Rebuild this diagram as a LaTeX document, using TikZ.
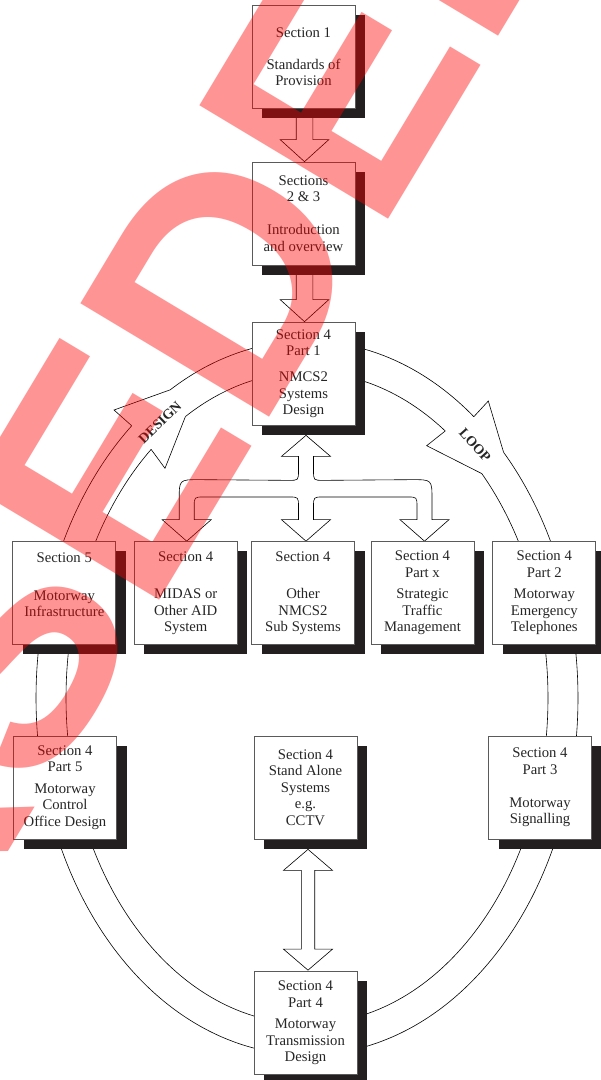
\documentclass[tikz,border=0pt]{standalone}
\usepackage{fontspec}
\setmainfont{Liberation Serif}
\newfontfamily\stampfont{Liberation Sans}
\usepackage{tikz}
\usetikzlibrary{calc,shadows}
\definecolor{shadowblk}{RGB}{35,31,32}
\definecolor{framegray}{RGB}{90,90,90}
\pgfdeclarelayer{back}
\pgfdeclarelayer{front}
\pgfsetlayers{back,main,front}

\begin{document}
\begin{tikzpicture}[x=1pt,y=1pt,
  sect/.style={draw=framegray,fill=white,line width=0.7pt,minimum width=103pt,minimum height=103pt,inner sep=0pt,align=center,text=black!85,font=\fontsize{14.7}{16.5}\selectfont,drop shadow={shadow xshift=10pt,shadow yshift=-9.5pt,opacity=1,fill=shadowblk}},
  blk/.style={draw=black,fill=white,line width=0.6pt,line join=miter},
  ring/.style={draw=black,line width=0.6pt},
  tag/.style={font=\fontsize{14}{14}\selectfont\bfseries,inner sep=0pt,text=black!85}]
\useasboundingbox (0,0) rectangle (601,-1080);
% top column
\node[sect] (s1) at (303.5,-56.5) {Section 1\\[15.5pt]Standards of\\Provision};
\node[sect] (s23) at (303.5,-213.5) {Sections\\2 \& 3\\[16.5pt]Introduction\\and overview};
\node[sect] (s41) at (303.5,-373.5) {Section 4\\Part 1\\[9.5pt]NMCS2\\Systems\\Design};
% middle row
\foreach \n/\x/\t in %
{s5/64.3/{Section 5\\[21pt]Motorway\\Infrastructure\\~},
 midas/185.7/{Section 4\\[21pt]MIDAS or\\Other AID\\System},
 other/303/{Section 4\\[21pt]Other\\NMCS2\\Sub Systems},
 stm/422.5/{Section 4\\Part x\\[5pt]Strategic\\Traffic\\Management},
 met/544.3/{Section 4\\Part 2\\[5pt]Motorway\\Emergency\\Telephones}} {
   \node[sect] (\n) at (\x,-593) {\t};
}
% lower row
\foreach \n/\x/\t in %
{p5/65/{Section 4\\Part 5\\[5pt]Motorway\\Control\\Office Design},
 cctv/305.5/{Section 4\\Stand Alone\\Systems\\e.g.\\CCTV},
 p3/540/{Section 4\\Part 3\\[16.5pt]Motorway\\Signalling}} {
   \node[sect] (\n) at (\x,-787.5) {\t};
}
\node[sect] (p4) at (305.5,-1023) {Section 4\\Part 4\\[5pt]Motorway\\Transmission\\Design};

\begin{pgfonlayer}{back}
% design loop
\coordinate (ctr) at (307,-698);
\draw[ring] ($(ctr)+(120.3:271pt and 357pt)$) arc[start angle=120.3,end angle=52,x radius=271pt,y radius=357pt];
\draw[ring] ($(ctr)+(43.5:271pt and 357pt)$) arc[start angle=43.5,end angle=-229.7,x radius=271pt,y radius=357pt];
\draw[ring] ($(ctr)+(120.3:241pt and 326pt)$) arc[start angle=120.3,end angle=55,x radius=241pt,y radius=326pt];
\draw[ring] ($(ctr)+(43.5:241pt and 326pt)$) arc[start angle=43.5,end angle=-229.7,x radius=241pt,y radius=326pt];
\draw[ring] ($(ctr)+(130.3:271pt and 357pt)$) -- (114,-410) -- ($(ctr)+(120.3:271pt and 357pt)$);
\draw[ring] ($(ctr)+(130.3:241pt and 326pt)$) -- (165,-468.3) -- ($(ctr)+(120.3:241pt and 326pt)$);
\draw[ring] ($(ctr)+(52:271pt and 357pt)$) -- (488.3,-401) -- ($(ctr)+(43.5:271pt and 357pt)$);
\draw[ring] ($(ctr)+(55:241pt and 326pt)$) -- (426.7,-445.7) -- ($(ctr)+(43.5:241pt and 326pt)$);
\node[tag,rotate=44] (dsgn) at (160,-422.5) {DESIGN};
\node[tag,rotate=-48] (loop) at (475,-445) {LOOP};
% block arrows
\draw[blk] ($(s1.south)+(-7.3,0)$) -- ($(s23.north)+(-7.3,22)$) -- ($(s23.north)+(-23.3,22)$) -- ($(s23.north)+(1,0)$)
   -- ($(s23.north)+(25.3,22)$) -- ($(s23.north)+(9.3,22)$) -- ($(s1.south)+(9.3,0)$) -- cycle;
\draw[blk] ($(s23.south)+(-7.3,0)$) -- ($(s41.north)+(-7.3,22)$) -- ($(s41.north)+(-23.3,22)$) -- ($(s41.north)+(1,0)$)
   -- ($(s41.north)+(25.3,22)$) -- ($(s41.north)+(9.3,22)$) -- ($(s23.south)+(9.3,0)$) -- cycle;
\coordinate (ut) at ($(s41.south)+(2.5,-10)$);
\coordinate (bl) at ($(midas.north)+(1,0)$);
\coordinate (bm) at ($(other.north)+(3,0)$);
\coordinate (br) at ($(stm.north)+(2,0)$);
\draw[blk] (ut) -- ($(ut)+(24.5,-21)$) -- ($(ut)+(7.5,-21)$) -- ($(ut)+(7.5,-35)$)
   .. controls ($(ut)+(7.5,-45)$) .. ($(ut)+(17.5,-45)$) -- ($(br)+(-12.5,61.5)$)
   .. controls ($(br)+(7.5,61.5)$) .. ($(br)+(7.5,41.5)$) -- ($(br)+(7.5,21.5)$) -- ($(br)+(24.5,21.5)$) -- (br)
   -- ($(br)+(-24.5,21.5)$) -- ($(br)+(-7.5,21.5)$) -- ($(br)+(-7.5,34.2)$)
   .. controls ($(br)+(-7.5,44.2)$) .. ($(br)+(-17.5,44.2)$) -- ($(bm)+(17.5,44.2)$)
   .. controls ($(bm)+(7.5,44.2)$) .. ($(bm)+(7.5,34.2)$) -- ($(bm)+(7.5,21.5)$) -- ($(bm)+(24.5,21.5)$) -- (bm)
   -- ($(bm)+(-24.5,21.5)$) -- ($(bm)+(-7.5,21.5)$) -- ($(bm)+(-7.5,34.2)$)
   .. controls ($(bm)+(-7.5,44.2)$) .. ($(bm)+(-17.5,44.2)$) -- ($(bl)+(17.5,44.2)$)
   .. controls ($(bl)+(7.5,44.2)$) .. ($(bl)+(7.5,34.2)$) -- ($(bl)+(7.5,21.5)$) -- ($(bl)+(24.5,21.5)$) -- (bl)
   -- ($(bl)+(-24.5,21.5)$) -- ($(bl)+(-7.5,21.5)$) -- ($(bl)+(-7.5,41.5)$)
   .. controls ($(bl)+(-7.5,61.5)$) .. ($(bl)+(12.5,61.5)$) -- ($(ut)+(-17.5,-45)$)
   .. controls ($(ut)+(-7.5,-45)$) .. ($(ut)+(-7.5,-35)$) -- ($(ut)+(-7.5,-21)$) -- ($(ut)+(-24.5,-21)$) -- cycle;
\coordinate (ct) at ($(cctv.south)+(2.5,-10)$);
\coordinate (pt) at ($(p4.north)+(2.5,1)$);
\draw[blk] (ct) -- ($(ct)+(24.5,-21)$) -- ($(ct)+(6.7,-21)$) -- ($(pt)+(6.7,21)$) -- ($(pt)+(24.5,21)$) -- (pt)
   -- ($(pt)+(-24.5,21)$) -- ($(pt)+(-6.7,21)$) -- ($(ct)+(-6.7,-21)$) -- ($(ct)+(-24.5,-21)$) -- cycle;
\end{pgfonlayer}

\begin{pgfonlayer}{front}
\node[anchor=base west,rotate=59,inner sep=0pt,text=red,text opacity=0.42,font=\stampfont\bfseries\fontsize{320}{320}\selectfont] (stamp) at (-529,-1746.5) {SUPERSEDED};
\end{pgfonlayer}
\end{tikzpicture}
\end{document}
